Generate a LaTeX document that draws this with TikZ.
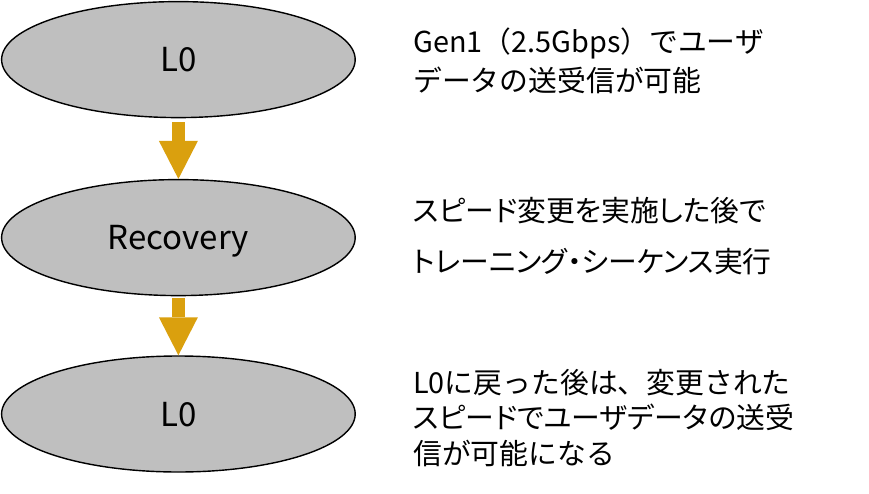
\documentclass[tikz,border=0pt]{standalone}
\usepackage{fontspec}
\setmainfont{Noto Sans CJK JP}
\newfontfamily\jpnarrow[RawFeature=+palt]{Noto Sans CJK JP}
\usepackage{tikz}
\usetikzlibrary{arrows.meta,shapes.geometric}
\definecolor{stategrey}{RGB}{191,191,191}
\definecolor{arrowgold}{RGB}{218,160,14}
\tikzset{
  base/.style={font=\fontsize{20.5}{27.7}\selectfont, inner sep=0pt, text=black},
  state/.style={base, ellipse, draw=black, fill=stategrey, line width=1pt, minimum width=8.84cm, minimum height=2.9cm, text depth=0pt, font=\fontsize{23.5}{28}\selectfont},
  desc/.style={base, anchor=west, align=left},
  arr/.style={draw=arrowgold, line width=0.325cm, -{Triangle[width=0.975cm,length=0.95cm,line width=0pt]}},
}
\begin{document}
\begin{tikzpicture}
  \useasboundingbox (0,0) rectangle (21.725,-12.35);
  % states
  \node[state] (l0a) at (4.46,-1.49) {L0};
  \node[state] (rec) at (4.46,-5.94) {Recovery};
  \node[state] (l0b) at (4.46,-10.35) {L0};
  \draw[arr,shorten <=0.1cm] (l0a) -- (rec);
  \draw[arr,shorten <=0.05cm] (rec) -- (l0b);
  % notes
  \node[desc] (t1) at (10.325,-1.51) {Gen1（2.5Gbps）でユーザ\\データの送受信が可能};
  \node[desc,font=\fontsize{20.5}{36.3}\selectfont\jpnarrow] (t2) at (10.325,-5.91) {スピード変更を実施した後で\\トレーニング・シーケンス実行};
  \node[desc,font=\fontsize{20.5}{25.2}\selectfont] (t3) at (10.325,-10.45) {L0に戻った後は、変更された\\{\jpnarrow スピードでユーザデータ}の送受\\信が可能になる};
\end{tikzpicture}
\end{document}
